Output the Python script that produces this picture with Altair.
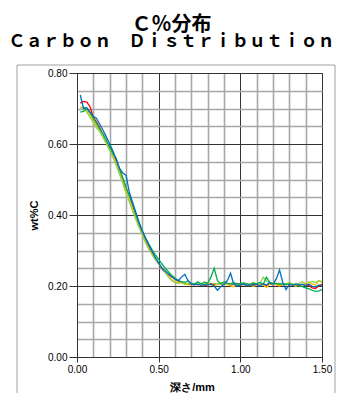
import altair as alt
import pandas as pd

series_names = ["S1", "S2", "S3", "S4", "S5"]
series_colors = ["#FF0000", "#FFC000", "#92D050", "#00B050", "#0070C0"]

depth = [round(0.02 * i, 2) for i in range(1, 76)]

s1 = [0.715, 0.720, 0.718, 0.705, 0.675, 0.662, 0.645, 0.625, 0.605, 0.592,
      0.575, 0.552, 0.528, 0.503, 0.476, 0.455, 0.428, 0.398, 0.372, 0.350,
      0.330, 0.312, 0.293, 0.276, 0.262, 0.248, 0.238, 0.232, 0.226, 0.220,
      0.214, 0.210, 0.207, 0.205, 0.204,
      0.205, 0.203, 0.206, 0.202, 0.204, 0.207, 0.203, 0.205, 0.208, 0.204,
      0.206, 0.202, 0.205, 0.207, 0.203, 0.204, 0.206, 0.202, 0.205, 0.203,
      0.207, 0.204, 0.202, 0.206, 0.203, 0.205, 0.201, 0.204, 0.206, 0.203,
      0.205, 0.202, 0.204, 0.203, 0.206, 0.201, 0.195, 0.193, 0.200, 0.205]

s2 = [0.705, 0.700, 0.695, 0.680, 0.665, 0.652, 0.640, 0.622, 0.605, 0.588,
      0.568, 0.545, 0.522, 0.497, 0.470, 0.443, 0.418, 0.393, 0.368, 0.345,
      0.325, 0.306, 0.290, 0.276, 0.263, 0.252, 0.240, 0.228, 0.218, 0.212,
      0.210, 0.208, 0.206, 0.204, 0.203,
      0.204, 0.206, 0.202, 0.205, 0.209, 0.203, 0.201, 0.205, 0.207, 0.203,
      0.205, 0.200, 0.198, 0.204, 0.206, 0.203, 0.201, 0.205, 0.198, 0.204,
      0.207, 0.203, 0.196, 0.205, 0.210, 0.203, 0.200, 0.206, 0.203, 0.208,
      0.204, 0.199, 0.205, 0.203, 0.207, 0.212, 0.205, 0.203, 0.215, 0.210]

s3 = [0.700, 0.705, 0.690, 0.675, 0.660, 0.645, 0.635, 0.618, 0.600, 0.582,
      0.562, 0.540, 0.515, 0.490, 0.462, 0.438, 0.412, 0.388, 0.365, 0.343,
      0.322, 0.303, 0.288, 0.274, 0.262, 0.250, 0.238, 0.225, 0.215, 0.210,
      0.207, 0.212, 0.205, 0.208, 0.206,
      0.207, 0.210, 0.205, 0.212, 0.206, 0.204, 0.208, 0.205, 0.210, 0.206,
      0.204, 0.207, 0.205, 0.203, 0.206, 0.208, 0.204, 0.206, 0.210, 0.205,
      0.207, 0.225, 0.215, 0.207, 0.204, 0.206, 0.208, 0.205, 0.207, 0.210,
      0.206, 0.204, 0.208, 0.212, 0.206, 0.209, 0.213, 0.210, 0.215, 0.212]

s4 = [0.690, 0.692, 0.700, 0.688, 0.672, 0.658, 0.642, 0.628, 0.610, 0.592,
      0.573, 0.560, 0.530, 0.505, 0.478, 0.455, 0.432, 0.402, 0.376, 0.355,
      0.336, 0.318, 0.302, 0.288, 0.275, 0.262, 0.250, 0.240, 0.230, 0.222,
      0.216, 0.212, 0.210, 0.215, 0.207,
      0.205, 0.212, 0.206, 0.210, 0.208, 0.225, 0.250, 0.215, 0.205, 0.212,
      0.208, 0.206, 0.210, 0.205, 0.207, 0.209, 0.206, 0.204, 0.208, 0.206,
      0.210, 0.205, 0.225, 0.210, 0.206, 0.208, 0.205, 0.207, 0.204, 0.206,
      0.203, 0.205, 0.200, 0.198, 0.195, 0.192, 0.188, 0.185, 0.186, 0.190]

s5 = [0.738, 0.700, 0.702, 0.690, 0.678, 0.672, 0.655, 0.638, 0.620, 0.600,
      0.580, 0.557, 0.532, 0.518, 0.512, 0.465, 0.436, 0.408, 0.380, 0.355,
      0.334, 0.315, 0.297, 0.280, 0.265, 0.250, 0.242, 0.234, 0.226, 0.219,
      0.215, 0.225, 0.233, 0.215, 0.205,
      0.203, 0.205, 0.202, 0.204, 0.203, 0.205, 0.200, 0.188, 0.198, 0.205,
      0.215, 0.236, 0.205, 0.200, 0.203, 0.205, 0.201, 0.204, 0.202, 0.205,
      0.200, 0.206, 0.203, 0.210, 0.205, 0.220, 0.245, 0.210, 0.190, 0.205,
      0.202, 0.206, 0.203, 0.205, 0.200, 0.205, 0.199, 0.197, 0.203, 0.200]

x_grid = [round(0.1 * i, 2) for i in range(0, 16)]
y_grid = [round(0.05 * i, 2) for i in range(0, 17)]

title_line1 = "Ｃ％分布"
title_line2 = "Ｃａｒｂｏｎ　Ｄｉｓｔｒｉｂｕｔｉｏｎ"
x_title = "深さ/mm"
y_title = "wt%C"

rows = []
for name, vals in zip(series_names, [s1, s2, s3, s4, s5]):
    for d, v in zip(depth, vals):
        rows.append({"depth": d, "value": v, "series": name})
df = pd.DataFrame(rows)

x_major = "abs(datum.value*2 - round(datum.value*2)) < 0.001"
y_major = "abs(datum.value*5 - round(datum.value*5)) < 0.001"

lines = alt.Chart(df).mark_line(strokeWidth=1.3).encode(
    x=alt.X("depth:Q",
            scale=alt.Scale(domain=[0, 1.5], nice=False, zero=False),
            axis=alt.Axis(values=x_grid, title=x_title,
                          labelExpr=x_major + " ? format(datum.value, '.2f') : ''",
                          gridColor={"condition": {"test": x_major, "value": "#333333"}, "value": "#a8a8a8"},
                          gridWidth={"condition": {"test": x_major, "value": 1}, "value": 1.6},
                          tickColor={"condition": {"test": x_major, "value": "#333333"}, "value": "transparent"},
                          tickSize=5, labelPadding=2, labelFlush=False, labelOverlap=False,
                          domainColor="#333333", titlePadding=7, titleX=115)),
    y=alt.Y("value:Q",
            scale=alt.Scale(domain=[0, 0.8], nice=False),
            axis=alt.Axis(values=y_grid, title=y_title,
                          labelExpr=y_major + " ? format(datum.value, '.2f') : ''",
                          gridColor={"condition": {"test": y_major, "value": "#333333"}, "value": "#a8a8a8"},
                          gridWidth={"condition": {"test": y_major, "value": 1}, "value": 1.6},
                          tickColor={"condition": {"test": y_major, "value": "#333333"}, "value": "transparent"},
                          tickSize=8, labelPadding=2, labelFlush=False, labelOverlap=False,
                          domainColor="#333333", titlePadding=8)),
    color=alt.Color("series:N", scale=alt.Scale(domain=series_names, range=series_colors), legend=None),
)

frame = alt.Chart(pd.DataFrame({"k": [0]})).mark_rect(
    fill="transparent", stroke="#a0a0a0", strokeWidth=1
).encode(
    x=alt.value(-60), x2=alt.value(258), y=alt.value(-8), y2=alt.value(345)
)

chart = alt.layer(frame, lines).properties(
    width=245, height=284,
    title=alt.TitleParams(text=title_line1, subtitle=title_line2,
                          font="Noto Sans CJK JP", fontSize=20, fontWeight="bold", color="#000000",
                          subtitleFont="Noto Sans CJK JP", subtitleFontSize=17.2,
                          subtitleFontWeight="bold", subtitleColor="#000000", subtitlePadding=-2,
                          anchor="middle", frame="group", dx=-28, offset=14),
    autosize=alt.AutoSizeParams(type="none"),
    padding={"left": 69, "top": 65, "right": 14, "bottom": 36},
).configure_view(stroke="#333333", strokeWidth=1).configure_axis(
    labelFont="Liberation Sans", labelFontSize=13, labelColor="#000000",
    titleFont="Liberation Sans, Noto Sans CJK JP", titleFontSize=12, titleFontWeight="bold",
    titleColor="#000000",
).configure(background="white")

chart.save("out.html", embed_options={"renderer": "svg", "actions": False})
